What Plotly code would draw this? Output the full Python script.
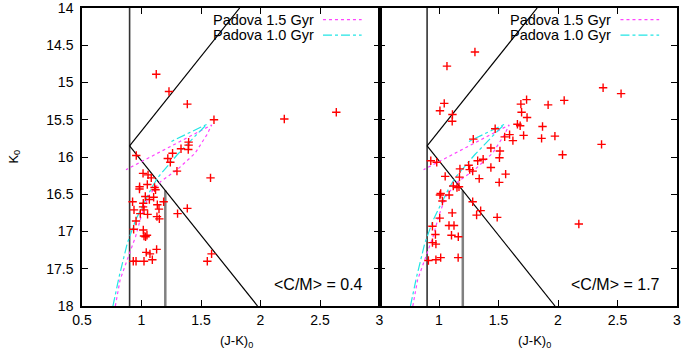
import plotly.graph_objects as go
from plotly.subplots import make_subplots

# ---- data: left panel (<C/M> = 0.4) ----
left_jk = [1.124, 1.231, 1.385, 1.609, 2.200, 2.637,
           1.396, 1.396, 1.332, 1.393, 1.261, 0.956, 1.221, 1.242, 1.298, 1.580,
           1.013, 1.055, 1.082, 0.984, 0.983, 1.049, 1.110, 1.118, 1.032, 1.066, 1.102,
           0.925, 1.015, 1.013, 1.021, 1.133, 1.147, 1.186, 0.937, 0.990, 1.051,
           1.130, 1.150, 1.303, 1.385, 0.954, 0.934, 1.015, 1.021, 1.046, 1.034,
           1.127, 1.040, 1.071, 1.091, 0.931, 0.954, 1.021, 1.589, 1.553]
left_k = [14.89, 15.12, 15.29, 15.50, 15.49, 15.40,
          15.80, 15.84, 15.89, 15.90, 15.95, 15.98, 16.02, 16.07, 16.19, 16.28,
          16.22, 16.24, 16.28, 16.40, 16.43, 16.37, 16.41, 16.44, 16.53, 16.57, 16.54,
          16.60, 16.62, 16.67, 16.71, 16.64, 16.70, 16.60, 16.71, 16.76, 16.77,
          16.80, 16.83, 16.76, 16.69, 16.86, 16.97, 16.98, 17.06, 17.05, 17.07,
          17.24, 17.28, 17.30, 17.38, 17.40, 17.40, 17.40, 17.30, 17.40]

# ---- data: right panel (<C/M> = 1.7) ----
right_jk = [1.302, 1.067, 2.379, 2.530, 1.044, 1.008, 1.113, 1.111, 1.736, 1.688,
            2.052, 1.917, 1.694, 1.740, 1.472, 1.659, 1.682, 1.870, 1.593, 1.552,
            1.621, 1.711, 1.862, 1.974, 1.288, 2.366, 1.436, 1.512, 1.508, 2.038,
            0.931, 0.981, 1.371, 1.325, 1.249, 1.258, 1.283, 1.176, 1.436, 1.560,
            1.052, 1.172, 1.338, 1.506, 1.120, 1.151, 1.168, 1.014, 1.008, 1.085,
            1.029, 1.283, 1.350, 1.316, 1.489, 1.111, 1.006, 1.084, 1.126, 0.945,
            0.970, 1.105, 1.162, 0.945, 0.974, 0.911, 0.974, 1.014, 1.161, 2.175]
right_k = [14.59, 14.78, 15.07, 15.15, 15.28, 15.38, 15.43, 15.52, 15.23, 15.29,
           15.24, 15.30, 15.40, 15.47, 15.62, 15.56, 15.58, 15.59, 15.70, 15.73,
           15.78, 15.71, 15.75, 15.72, 15.76, 15.83, 15.88, 15.92, 16.01, 15.97,
           16.05, 16.07, 16.03, 16.05, 16.11, 16.17, 16.19, 16.16, 16.14, 16.23,
           16.26, 16.27, 16.29, 16.34, 16.39, 16.41, 16.40, 16.49, 16.51, 16.51,
           16.59, 16.60, 16.72, 16.78, 16.81, 16.75, 16.82, 16.92, 16.92, 16.93,
           17.04, 17.05, 17.07, 17.15, 17.17, 17.39, 17.38, 17.35, 17.35, 16.90]

# ---- isochrones ----
iso15_jk = [0.78, 0.82, 0.88, 0.95, 1.00, 1.06, 1.16, 1.30, 1.45, 1.55, 1.59, 0.87]
iso15_k = [18.0, 17.65, 17.38, 17.07, 16.78, 16.52, 16.33, 16.17, 15.95, 15.70, 15.57, 16.17]
iso10_jk = [0.76, 0.81, 0.88, 0.95, 1.02, 1.09, 1.14, 1.30, 1.45, 1.55, 1.24]
iso10_k = [18.0, 17.62, 17.16, 16.85, 16.62, 16.40, 16.27, 15.97, 15.72, 15.56, 15.80]

# ---- selection boundaries ----
vline1_jk = [0.9, 0.9]
vline1_k = [14.0, 18.0]
vline2_jk = [1.2, 1.2]
vline2_k = [16.45, 18.0]
upper_jk = [0.9, 1.825]
upper_k = [15.85, 14.0]
lower_jk = [0.9, 1.975]
lower_k = [15.85, 18.0]

xticks_left = [0.5, 1, 1.5, 2, 2.5, 3]
xticks_right = [1, 1.5, 2, 2.5, 3]
yticks = [14, 14.5, 15, 15.5, 16, 16.5, 17, 17.5, 18]
panel_labels = ["&lt;C/M&gt; = 0.4", "&lt;C/M&gt; = 1.7"]
legend_names = ["Padova 1.5 Gyr", "Padova 1.0 Gyr"]

FONT = "Liberation Sans, Arial, sans-serif"
MAG = "#ff44ff"
CYA = "#22e5e5"

fig = make_subplots(rows=1, cols=2, shared_yaxes=True, horizontal_spacing=0)

for col, (xs, ys) in enumerate([(left_jk, left_k), (right_jk, right_k)], start=1):
    fig.add_trace(go.Scatter(x=vline1_jk, y=vline1_k, mode="lines",
                             line=dict(color="#333333", width=1.6), showlegend=False), 1, col)
    fig.add_trace(go.Scatter(x=vline2_jk, y=vline2_k, mode="lines",
                             line=dict(color="#808080", width=2.5), showlegend=False), 1, col)
    fig.add_trace(go.Scatter(x=upper_jk, y=upper_k, mode="lines",
                             line=dict(color="black", width=1.2), showlegend=False), 1, col)
    fig.add_trace(go.Scatter(x=lower_jk, y=lower_k, mode="lines",
                             line=dict(color="black", width=1.2), showlegend=False), 1, col)
    fig.add_trace(go.Scatter(x=iso15_jk, y=iso15_k, mode="lines", name=legend_names[0],
                             line=dict(color=MAG, width=1.2, dash="dot"), showlegend=False), 1, col)
    fig.add_trace(go.Scatter(x=iso10_jk, y=iso10_k, mode="lines", name=legend_names[1],
                             line=dict(color=CYA, width=1.2, dash="dashdot"), showlegend=False), 1, col)
    fig.add_trace(go.Scatter(x=xs, y=ys, mode="markers",
                             marker=dict(symbol="cross-thin", size=6,
                                         line=dict(color="red", width=1.4)),
                             showlegend=False), 1, col)

axis_common = dict(range=[0.5, 3], showline=True, linecolor="black", linewidth=1.5,
                   mirror="ticks", ticks="inside", ticklen=6, tickcolor="black",
                   showgrid=False, zeroline=False, automargin=False,
                   ticklabeloverflow="allow",
                   tickfont=dict(family=FONT, size=14, color="black"))
fig.update_xaxes(**axis_common)
fig.update_xaxes(tickvals=xticks_left, ticktext=[f"{v:g}" for v in xticks_left], row=1, col=1)
fig.update_xaxes(tickvals=xticks_right, ticktext=[f"{v:g}" for v in xticks_right], row=1, col=2)

fig.update_yaxes(range=[18, 14], tickvals=yticks, ticktext=[f"{v:g}" for v in yticks],
                 showline=True, linecolor="black", linewidth=1.5, mirror="ticks",
                 ticks="inside", ticklen=6, tickcolor="black", showgrid=False, zeroline=False,
                 automargin=False, ticklabeloverflow="allow",
                 tickfont=dict(family=FONT, size=14, color="black"), ticklabelstandoff=4)
fig.update_yaxes(showticklabels=False, row=1, col=2)

annotations = []
shapes = []
for i, xd in enumerate(["x domain", "x2 domain"]):
    annotations.append(dict(xref=xd, yref="y domain", x=0.95, y=0.073, xanchor="right",
                            yanchor="middle", text=panel_labels[i], showarrow=False,
                            font=dict(family=FONT, size=16, color="black")))
    annotations.append(dict(xref=xd, yref="y domain", x=0.52, y=-0.118, xanchor="center",
                            yanchor="middle", text="(J-K)<sub>0</sub>", showarrow=False,
                            font=dict(family=FONT, size=13, color="black")))
    for j, (name, color, dash) in enumerate([(legend_names[0], MAG, "dot"),
                                             (legend_names[1], CYA, "dashdot")]):
        yy = 0.961 - j * 0.052
        annotations.append(dict(xref=xd, yref="y domain", x=0.785, y=yy, xanchor="right",
                                yanchor="middle", text=name, showarrow=False,
                                font=dict(family=FONT, size=14.5, color="black")))
        shapes.append(dict(type="line", xref=xd, yref="y domain", x0=0.81, x1=0.94,
                           y0=yy, y1=yy, line=dict(color=color, width=1.2, dash=dash)))

annotations.append(dict(xref="paper", yref="paper", x=-0.115, y=0.5, xanchor="center",
                        yanchor="middle", text="K<sub>0</sub>", textangle=-90,
                        showarrow=False, font=dict(family=FONT, size=13, color="black")))

fig.update_layout(width=685, height=351, margin=dict(l=82, r=8, t=8, b=45),
                  plot_bgcolor="white", paper_bgcolor="white",
                  annotations=annotations, shapes=shapes, showlegend=False)

fig.write_html("out.html", config={"displayModeBar": False},
               post_script="document.body.style.margin='0';")
